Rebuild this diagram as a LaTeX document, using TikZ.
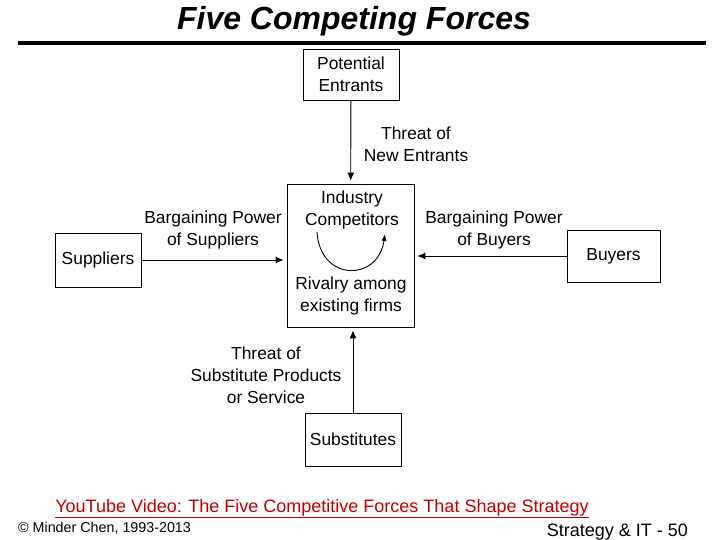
\documentclass[tikz,border=0pt]{standalone}
\usepackage{fontspec}
\setmainfont{Liberation Sans}
\usetikzlibrary{arrows.meta}
\definecolor{linkred}{RGB}{192,0,0}
\begin{document}
\begin{tikzpicture}[x=1pt,y=-1pt,
  box/.style={draw, line width=0.8pt, inner sep=0pt, align=center, font=\fontsize{17.4}{22}\selectfont},
  lbl/.style={align=center, inner sep=0pt, font=\fontsize{17.4}{22}\selectfont},
  arr/.style={line width=0.9pt, -{Latex[length=8pt,width=7pt]}, shorten >=3pt}]
\useasboundingbox (0,0) rectangle (720,540);
% title and rule
\node[font=\fontsize{32}{33}\selectfont\bfseries\itshape] (title) at (354,21) {Five Competing Forces};
\draw[line width=3.5pt] (18,43) -- (706,43);
% boxes
\node[box, minimum width=96pt, minimum height=51pt] (entrants) at (351,74.5) {Potential\\Entrants};
\node[box, minimum width=127pt, minimum height=143pt] (industry) at (350.5,255.5) {};
\node[box, minimum width=86pt, minimum height=54pt] (suppliers) at (98,260) {Suppliers};
\node[box, minimum width=93pt, minimum height=52pt] (buyers) at (613.5,256) {Buyers};
\node[box, minimum width=96pt, minimum height=53pt] (subs) at (353,439.5) {Substitutes};
\node[lbl] (competitors) at (352,210) {Industry\\Competitors};
\node[lbl] (rivalry) at (351,296) {Rivalry among\\existing firms};
% forces
\draw[arr] (entrants) -- (industry);
\draw[arr] (suppliers.east) -- (suppliers.east -| industry.west);
\draw[arr] (buyers.west) -- (buyers.west -| industry.east);
\draw[arr] (subs.north) -- (subs.north |- industry.south);
\coordinate (rivA) at (317,232);
\coordinate (rivB) at (385,234);
\draw[line width=0.9pt, -{Latex[length=7pt,width=5pt]}] (rivA) .. controls (320,282) and (378,282) .. (rivB);
\node[lbl] (newent) at (416,144) {Threat of\\New Entrants};
\node[lbl] (bpsup) at (213,230) {Bargaining Power\\of Suppliers};
\node[lbl] (bpbuy) at (494,230) {Bargaining Power\\of Buyers};
\node[lbl] (subthreat) at (266,375) {Threat of\\Substitute Products\\or Service};
% footer
\node[anchor=base, text=linkred, font=\fontsize{18}{18}\selectfont] (video) at (322,512) {\underline{YouTube Video: The Five Competitive Forces That Shape Strategy}};
\node[anchor=base west, inner sep=0pt, font=\fontsize{14.3}{15}\selectfont] (copy) at (18,532) {\textcopyright{} Minder Chen, 1993-2013};
\node[anchor=base east, inner sep=0pt, font=\fontsize{18}{18}\selectfont] (page) at (688,536) {Strategy \& IT - 50};
\end{tikzpicture}
\end{document}
